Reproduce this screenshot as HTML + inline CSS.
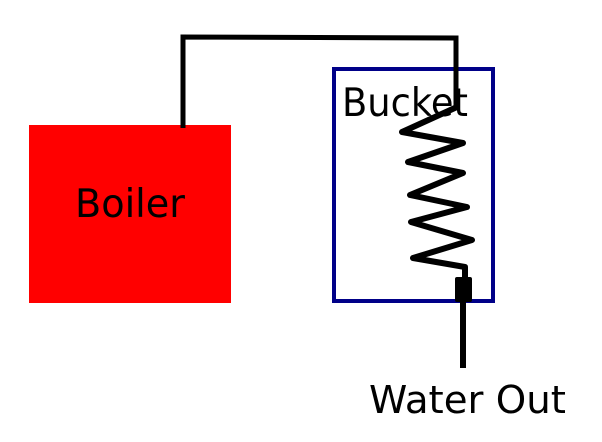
<!DOCTYPE html>
<html><head><style>html,body{margin:0;padding:0;background:#fff;}svg{display:block}</style></head>
<body>
<svg width="602" height="442" viewBox="0 0 602 442" xmlns="http://www.w3.org/2000/svg">
<rect x="29" y="125" width="202" height="178" fill="#ff0000"/>
<rect x="334" y="69" width="159" height="232" fill="none" stroke="#000088" stroke-width="4"/>
<text x="342" y="116" font-family="DejaVu Sans, Liberation Sans, sans-serif" font-size="39" textLength="126" lengthAdjust="spacingAndGlyphs" fill="#000">Bucket</text>
<text x="75" y="217" font-family="DejaVu Sans, Liberation Sans, sans-serif" font-size="39" textLength="110" lengthAdjust="spacingAndGlyphs" fill="#000">Boiler</text>
<text x="369" y="413" font-family="DejaVu Sans, Liberation Sans, sans-serif" font-size="38" textLength="197" lengthAdjust="spacingAndGlyphs" fill="#000">Water Out</text>
<polyline points="183,128 183,37 456,38 456,108" fill="none" stroke="#000" stroke-width="5"/>
<polyline points="457,107 402,132 463,143 408,162 463,173 410,195 467,207 411,222 472,240 413,258 465,267 465,280" fill="none" stroke="#000" stroke-width="6" stroke-linejoin="round"/>
<rect x="455" y="277" width="17" height="25" rx="2" fill="#000"/>
<line x1="463" y1="300" x2="463" y2="368" stroke="#000" stroke-width="6"/>
</svg>
</body></html>
